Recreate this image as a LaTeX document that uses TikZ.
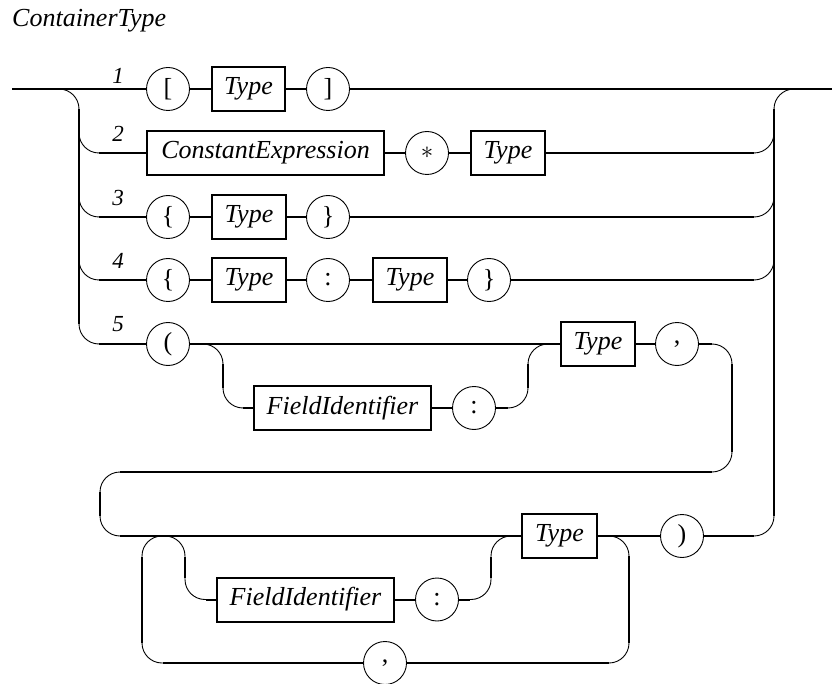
\documentclass[tikz,border=0pt]{standalone}
\usepackage{fontspec}
\setmainfont{Liberation Serif}
\begin{document}
\begin{tikzpicture}[x=1pt,y=-1pt,
  wire/.style={line width=2pt},
  arcwire/.style={line width=0.9pt, rounded corners=20pt},
  nt/.style={draw, line width=2pt, minimum height=44pt, inner sep=0pt,
    font=\fontsize{26}{30}\selectfont\itshape},
  tm/.style={draw, circle, line width=0.9pt, minimum size=43pt, inner sep=0pt,
    font=\fontsize{26}{30}\selectfont},
  lbl/.style={font=\fontsize{23}{26}\selectfont\itshape}]
\useasboundingbox (0,0) rectangle (832,684);

% title and branch numbers
\node[anchor=base west, inner sep=0pt, font=\fontsize{26}{30}\selectfont\itshape] (title) at (12,27) {ContainerType};
\node[lbl] (n1) at (118,76) {1};
\node[lbl] (n2) at (118,134) {2};
\node[lbl] (n3) at (118,198) {3};
\node[lbl] (n4) at (118,261) {4};
\node[lbl] (n5) at (118,324) {5};

% branch 1
\node[tm] (lb) at (168,89) {[};
\node[nt, minimum width=73pt] (t1) at (248.5,89) {Type};
\node[tm] (rb) at (328,89) {]};
% branch 2
\node[nt, minimum width=237pt] (ce) at (265.5,153) {ConstantExpression};
\node[tm] (star) at (427,153) {$*$};
\node[nt, minimum width=74pt] (t2) at (508,153) {Type};
% branch 3
\node[tm] (lc3) at (168,217) {\{};
\node[nt, minimum width=74pt] (t3) at (249,217) {Type};
\node[tm] (rc3) at (328,217) {\}};
% branch 4
\node[tm] (lc4) at (168,280) {\{};
\node[nt, minimum width=74pt] (t4a) at (249,280) {Type};
\node[tm] (col4) at (328,280) {:};
\node[nt, minimum width=74pt] (t4b) at (410,280) {Type};
\node[tm] (rc4) at (489,280) {\}};
% branch 5
\node[tm] (lp) at (168,344) {(};
\node[nt, minimum width=177pt] (fi1) at (342.5,408) {FieldIdentifier};
\node[tm] (col5) at (474,408) {:};
\node[nt, minimum width=74pt] (t5) at (598,344) {Type};
\node[tm] (com5) at (677,344) {,};
\node[nt, minimum width=75pt] (t6) at (559.5,536) {Type};
\node[tm] (rp) at (682,536) {)};
\node[nt, minimum width=177pt] (fi2) at (305.5,599.5) {FieldIdentifier};
\node[tm] (col6) at (437,599.5) {:};
\node[tm] (com6) at (385,663) {,};

% entry and exit
\coordinate (in) at (12,89);
\coordinate (out) at (832,89);

% main line through branch 1
\draw[wire] (in) -- (lb);
\draw[wire] (lb) -- (t1);
\draw[wire] (t1) -- (rb);
\draw[wire] (rb) -- (out);

% left rail
\draw[arcwire] (59,89) -| (79,109);
\draw[wire] (79,109) -- (79,324);
\foreach \r in {153,217,280,344}
  \draw[arcwire] (79,\r-20) |- (99,\r);
\draw[wire] (99,153) -- (ce);
\draw[wire] (99,217) -- (lc3);
\draw[wire] (99,280) -- (lc4);
\draw[wire] (99,344) -- (lp);

% right rail
\draw[arcwire] (774,109) |- (794,89);
\draw[wire] (774,109) -- (774,516);
\foreach \r in {153,217,280}
  \draw[arcwire] (754,\r) -| (774,\r-20);
\draw[arcwire] (774,516) |- (754,536);

% branch 2
\draw[wire] (ce) -- (star);
\draw[wire] (star) -- (t2);
\draw[wire] (t2) -- (754,153);
% branch 3
\draw[wire] (lc3) -- (t3);
\draw[wire] (t3) -- (rc3);
\draw[wire] (rc3) -- (754,217);
% branch 4
\draw[wire] (lc4) -- (t4a);
\draw[wire] (t4a) -- (col4);
\draw[wire] (col4) -- (t4b);
\draw[wire] (t4b) -- (rc4);
\draw[wire] (rc4) -- (754,280);

% branch 5, first element
\draw[wire] (lp) -- (t5);
\draw[arcwire] (203,344) -| (223,364);
\draw[wire] (223,364) -- (223,388);
\draw[arcwire] (223,388) |- (243,408);
\draw[wire] (243,408) -- (fi1);
\draw[wire] (fi1) -- (col5);
\draw[wire] (col5) -- (508,408);
\draw[arcwire] (508,408) -| (528,388);
\draw[wire] (528,388) -- (528,364);
\draw[arcwire] (528,364) |- (548,344);
\draw[wire] (t5) -- (com5);
\draw[wire] (com5) -- (712,344);

% wrap to the second line
\draw[arcwire] (712,344) -| (732,364);
\draw[wire] (732,364) -- (732,452);
\draw[arcwire] (732,452) |- (712,472);
\draw[wire] (712,472) -- (120,472);
\draw[arcwire] (120,472) -| (100,492);
\draw[wire] (100,492) -- (100,516);
\draw[arcwire] (100,516) |- (120,536);
\draw[wire] (120,536) -- (t6);
\draw[wire] (t6) -- (rp);
\draw[wire] (rp) -- (754,536);

% further elements: optional field name
\draw[arcwire] (142,557) |- (163,536);
\draw[arcwire] (163,536) -| (185,557);
\draw[wire] (185,557) -- (185,578);
\draw[arcwire] (185,578) |- (206,599.5);
\draw[wire] (206,599.5) -- (fi2);
\draw[wire] (fi2) -- (col6);
\draw[wire] (col6) -- (470,599.5);
\draw[arcwire] (470,599.5) -| (491,578);
\draw[wire] (491,578) -- (491,557);
\draw[arcwire] (491,557) |- (511,536);

% repetition loop through the comma
\draw[arcwire] (609,536) -| (629,556);
\draw[wire] (629,556) -- (629,643);
\draw[arcwire] (629,643) |- (609,663);
\draw[wire] (609,663) -- (com6);
\draw[wire] (com6) -- (163,663);
\draw[arcwire] (163,663) -| (142,643);
\draw[wire] (142,643) -- (142,557);
\end{tikzpicture}
\end{document}
